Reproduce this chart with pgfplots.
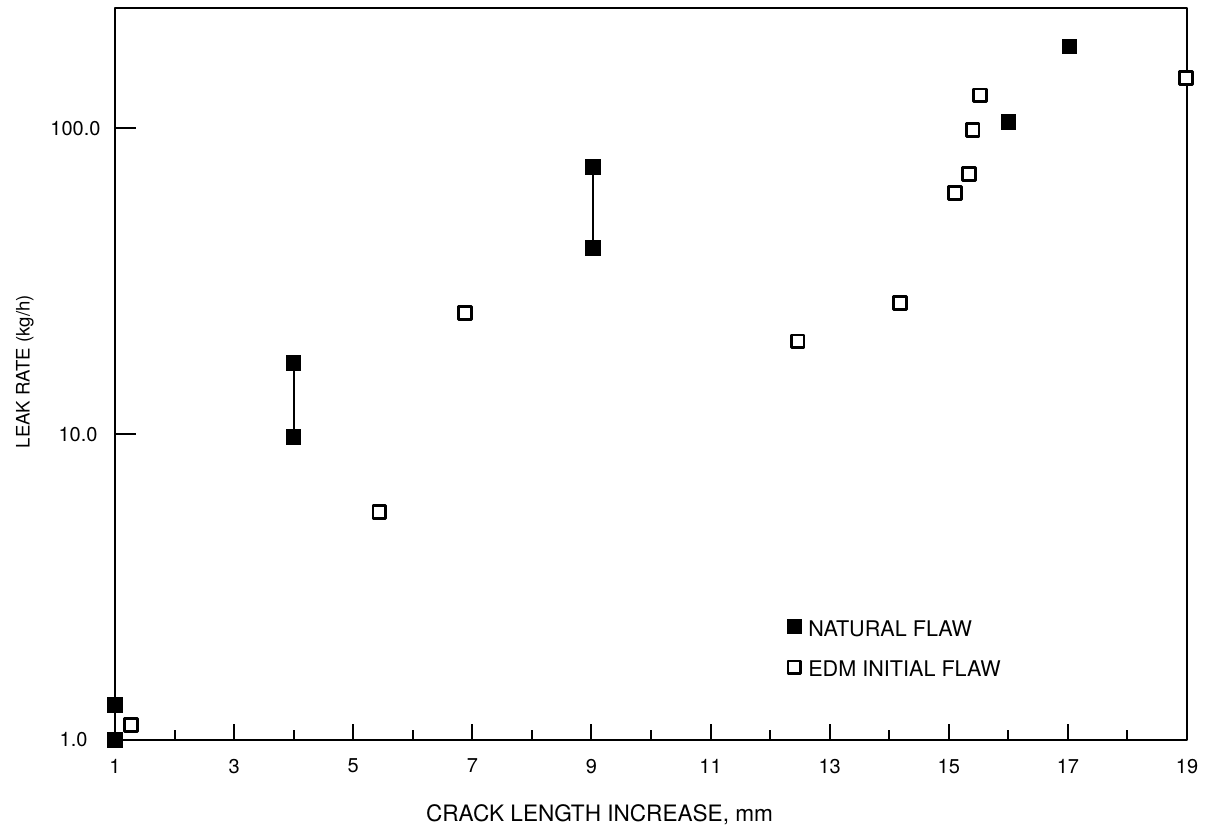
\documentclass[border=0pt]{standalone}
\usepackage{fontspec}
\setmainfont{TeX Gyre Heros}
\usepackage{pgfplots}
\pgfplotsset{compat=1.18}
\pgfplotsset{pointlegend/.style={legend image code/.code={\draw[##1] plot coordinates {(0pt,1.5pt)};}}}
\begin{document}
\begin{tikzpicture}
\begin{axis}[name=ax,
 scale only axis, width=536pt, height=366pt,
 xmin=1, xmax=19, ymode=log, ymin=1, ymax=247,
 clip=false,
 axis line style={line width=1.4pt, line join=round},
 xtick={1,3,...,19}, xticklabels={1,3,5,7,9,11,13,15,17,19},
 minor xtick={2,4,...,18},
 ytick={1,10,100}, yticklabels={1.0\hspace*{6.5pt},10.0\hspace*{1.5pt},100.0},
 yminorticks=false,
 tick align=inside, xtick pos=bottom, ytick pos=left,
 major tick length=8pt, minor tick length=5pt,
 tick style={line width=1pt, black},
 ytick style={draw=none},
 ticklabel style={font=\fontsize{10}{12}\selectfont},
 xticklabel style={yshift=-6pt},
 yticklabel style={xshift=-3.7pt},
 xlabel={CRACK LENGTH INCREASE, mm},
 ylabel={LEAK RATE (kg/h)},
 every axis x label/.style={at={(axis description cs:0.452,-0.1025)},anchor=center,font=\fontsize{11.3}{13}\selectfont},
 every axis y label/.style={at={(axis description cs:-0.084,0.503)},rotate=90,anchor=center,font=\fontsize{9.3}{11}\selectfont},
 legend style={at={(axis description cs:0.621,0.175)}, anchor=north west, draw=none, fill=none,
   font=\fontsize{10.8}{12}\selectfont, row sep=7pt,
   /tikz/every odd column/.append style={column sep=1.4pt}},
 legend cell align=left,
]
% y-axis tick marks (inward, 10.5pt long)
\addplot[forget plot, black, line width=1pt] coordinates {(1,10) (1.353,10)};
\addplot[forget plot, black, line width=1pt] coordinates {(1,100) (1.353,100)};
% vertical connectors for natural flaw pairs
\addplot[line width=1pt, forget plot] coordinates {(1,1.0) (1,1.3)};
\addplot[line width=1pt, forget plot] coordinates {(4,9.8) (4,17.1)};
\addplot[line width=1pt, forget plot] coordinates {(9.03,40.5) (9.03,74.6)};
\addplot[only marks, mark=square*, mark size=3.6pt,
  mark options={fill=black, draw=black, line width=0.6pt}, pointlegend]
  coordinates {(1,1.0) (1,1.3) (4,9.8) (4,17.1) (9.03,40.5) (9.03,74.6) (16,104.6) (17.03,185)};
\addlegendentry{NATURAL FLAW}
\addplot[only marks, mark=square*, mark size=3.2pt,
  mark options={fill=white, draw=black, line width=1.4pt, line join=round}, pointlegend]
  coordinates {(1.27,1.12) (5.44,5.56) (6.88,24.9) (12.46,20.1) (14.18,26.8) (15.10,61.3) (15.34,70.7) (15.40,98.5) (15.52,128) (18.98,146)};
\addlegendentry{EDM INITIAL FLAW}
\end{axis}
\pgfresetboundingbox
\path[use as bounding box] ([shift={(-57.5pt,-44.5pt)}]ax.south west) rectangle ([shift={(12pt,4pt)}]ax.north east);
\end{tikzpicture}
\end{document}
